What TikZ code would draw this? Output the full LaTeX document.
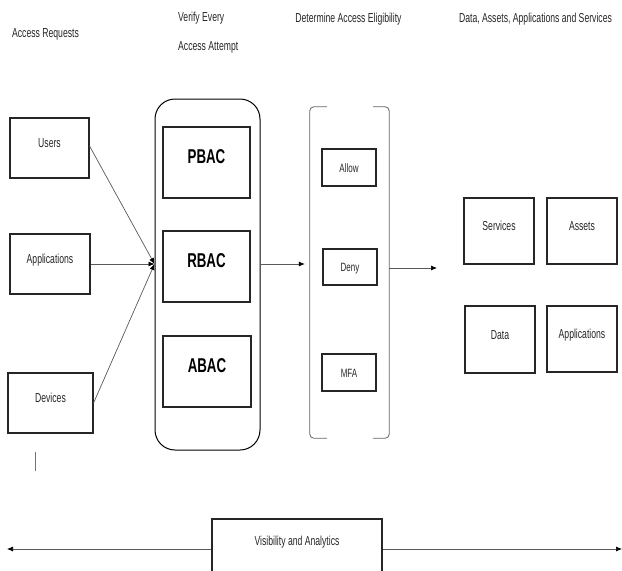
\documentclass[tikz,border=0pt]{standalone}
\usepackage{fontspec}
\setmainfont{Liberation Sans}[FakeStretch=0.665]
\usetikzlibrary{arrows.meta}
\begin{document}
\begin{tikzpicture}[x=1pt,y=-1pt,
  txt/.style={font=\fontsize{13}{15}\selectfont, text=black!85, inner sep=0pt, text height=9.5pt, text depth=0pt},
  box/.style={draw=black!85, line width=1.1pt, inner sep=0pt, font=\fontsize{13}{15}\selectfont, text=black!85},
  upper/.style={text height=9.5pt, text depth=10.2pt},
  mid/.style={text height=9.5pt, text depth=0pt},
  bigbox/.style={box, font=\fontsize{20}{22}\bfseries\selectfont, text=black, text height=14.5pt, text depth=12.2pt},
  conn/.style={draw=black!65, line width=0.7pt, -{Latex[length=6pt,width=5pt,color=black]}},
  brk/.style={draw=black!60, line width=0.8pt, rounded corners=4pt},
]
\useasboundingbox (0,0) rectangle (622,571);
\clip (0,0) rectangle (622,571);

% headers
\node[txt] (h1) at (45.5,33) {Access Requests};
\node[txt, anchor=west, align=left, font=\fontsize{13}{29}\selectfont, text height=, text depth=] (h2) at (178,32.5) {Verify Every\\Access Attempt};
\node[txt] (h3) at (348.5,18) {Determine Access Eligibility};
\node[txt] (h4) at (535.5,18) {Data, Assets, Applications and Services};

% sources
\node[box, upper, minimum width=79pt, minimum height=60pt] (users) at (49.5,148) {Users};
\node[box, upper, minimum width=80pt, minimum height=60pt] (apps) at (50,264) {Applications};
\node[box, upper, minimum width=85pt, minimum height=60pt] (dev) at (50.5,403) {Devices};

% verification container
\node[draw=black, line width=1pt, rounded corners=20pt, minimum width=105pt, minimum height=351pt, inner sep=0pt] (ctr) at (207.5,274.5) {};
\node[bigbox, minimum width=87pt, minimum height=71pt] (pbac) at (206.5,162.5) {PBAC};
\node[bigbox, minimum width=87pt, minimum height=71pt] (rbac) at (206.5,266.5) {RBAC};
\node[bigbox, minimum width=88pt, minimum height=71pt] (abac) at (207,371.5) {ABAC};

% eligibility bracket
\node[minimum width=79pt, minimum height=331pt, inner sep=0pt] (elig) at (349.5,272.5) {};
\draw[brk] ([xshift=17pt]elig.north west) -- (elig.north west) -- (elig.south west) -- ([xshift=17pt]elig.south west);
\draw[brk] ([xshift=-16pt]elig.north east) -- (elig.north east) -- (elig.south east) -- ([xshift=-16pt]elig.south east);
\node[box, mid, minimum width=54pt, minimum height=37pt, font=\fontsize{12}{14}\selectfont] (allow) at (349,167.5) {Allow};
\node[box, mid, minimum width=54pt, minimum height=36pt, font=\fontsize{12}{14}\selectfont] (deny) at (350,267) {Deny};
\node[box, mid, minimum width=54pt, minimum height=37pt, font=\fontsize{12}{14}\selectfont] (mfa) at (349,372.5) {MFA};

% resources
\node[box, upper, minimum width=70pt, minimum height=66pt] (serv) at (499,231) {Services};
\node[box, upper, minimum width=70pt, minimum height=66pt] (assets) at (582,231) {Assets};
\node[box, upper, minimum width=70pt, minimum height=67pt] (data) at (500,339.5) {Data};
\node[box, upper, minimum width=70pt, minimum height=66pt] (rapps) at (582,339) {Applications};

% connectors
\coordinate (cin) at (ctr.west |- apps.east);
\draw[conn] ([yshift=2pt]users.east) -- (cin);
\draw[conn] (apps.east) -- (cin);
\draw[conn] (dev.east) -- (cin);
\draw[conn, shorten >=5pt] (ctr.east |- cin) -- (elig.west |- cin);
\coordinate (res) at (437,268);
\draw[conn] (elig.east |- res) -- (res);

% small stray mark
\draw[draw=black!55, line width=0.8pt] (35,452) -- (35,471);

% visibility and analytics
\node[box, minimum width=170pt, minimum height=80pt, text height=9.5pt, text depth=36.2pt] (vis) at (297,559) {Visibility and Analytics};
\coordinate (vl) at (7,549);
\coordinate (vr) at (622,549);
\draw[conn] (vis.west |- vl) -- (vl);
\draw[conn] (vis.east |- vr) -- (vr);
\end{tikzpicture}
\end{document}
